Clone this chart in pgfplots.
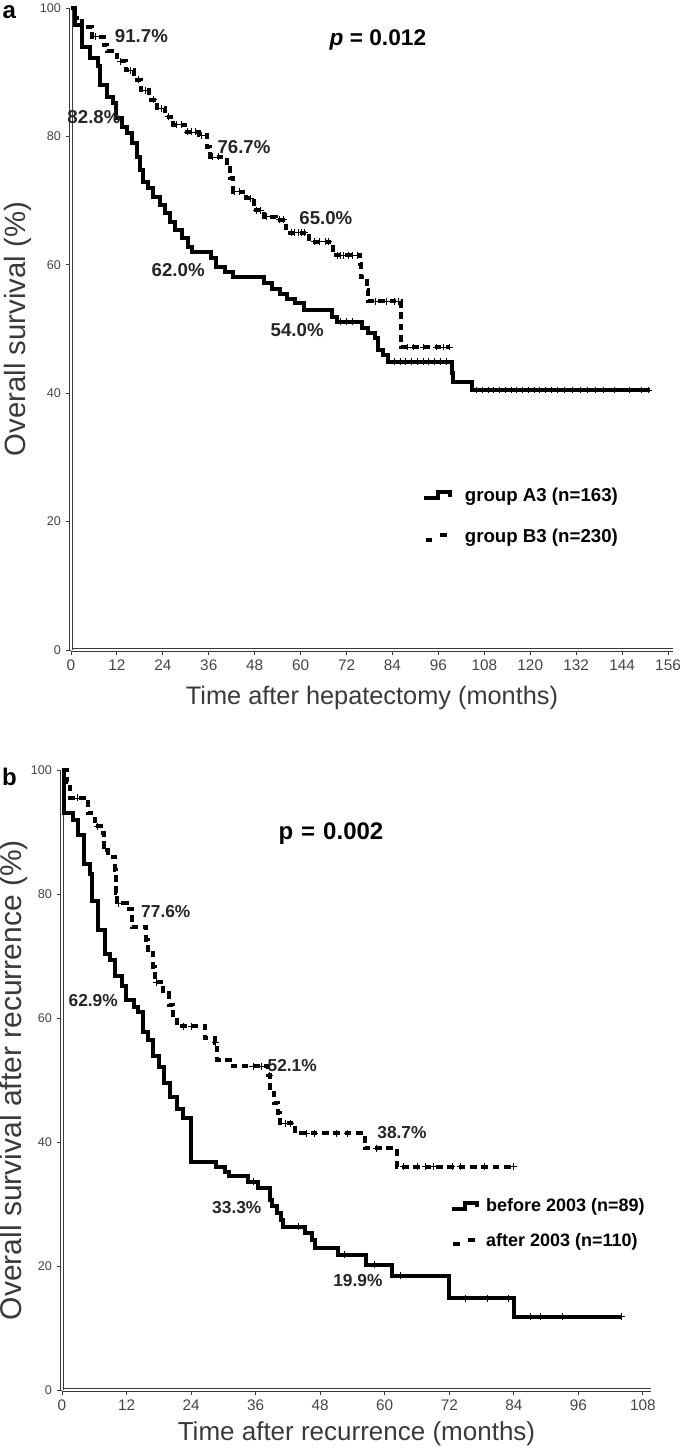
\documentclass[border=0pt]{standalone}
\usepackage{fontspec}
\setmainfont{Liberation Sans}
\usepackage{pgfplots}
\pgfplotsset{compat=1.18}

\definecolor{axgray}{HTML}{3A3A3A}
\definecolor{lblgray}{HTML}{454545}

\pgfplotsset{
  kmbase/.style={
    scale only axis,
    axis x line*=bottom, axis y line*=left,
    axis line style={draw=axgray, line width=0.6pt, double=white, double distance=1.1pt},
    tick style={draw=axgray, line width=0.7pt},
    tick align=outside, major tick length=4pt,
    ymin=0, ymax=100, ytick={0,20,...,100},
    /pgf/number format/assume math mode=true,
    yticklabel style={font=\fontsize{9.5}{10}\selectfont, text=lblgray},
    xticklabel style={font=\fontsize{11.5}{12}\selectfont, text=lblgray},
    clip=false,
    legend cell align=left,
  },
  solidkm/.style={const plot, black, line width=3pt, line join=miter, mark=none,
    legend image code/.code={\draw[black,line width=3pt,line join=miter] (0pt,-2pt) -- (10pt,-2pt) -- (10pt,2.5pt) -- (19pt,2.5pt) -- (19pt,-1pt);}},
  dashkm/.style={const plot, black, line width=3pt, dash pattern=on 5pt off 3.5pt, mark=none,
    legend image code/.code={\draw[black,line width=3pt] (1pt,-2.5pt) -- (8pt,-2.5pt); \draw[black,line width=3pt] (12pt,1pt) -- (19pt,1pt);}},
  cens/.style={only marks, mark=+, mark size=2.6pt, black, mark options={line width=0.6pt, solid}, forget plot},
}

\begin{document}
\begin{tikzpicture}
\path[use as bounding box] (0,0) rectangle (513.75pt,-1086.75pt);

% ---------------- panel a ----------------
\node[font=\bfseries\fontsize{18}{20}\selectfont, anchor=center] at (7pt,-9pt) {a};
\begin{axis}[kmbase,
  at={(53.25pt,-487.5pt)}, anchor=south west,
  width=451.5pt, height=481.5pt,
  xmin=0, xmax=157.3, xtick={0,12,...,156},
  xlabel={Time after hepatectomy (months)},
  ylabel={Overall survival (\%)},
  every axis x label/.style={at={(axis description cs:0.5,-0.075)}, anchor=center, font=\fontsize{19}{21}\selectfont, text=axgray},
  every axis y label/.style={at={(axis description cs:-0.088,0.5)}, rotate=90, anchor=center, font=\fontsize{22}{24}\selectfont, text=axgray},
  legend style={draw=none, fill=none, at={(axis cs:91.7,20.85)}, anchor=west, inner sep=0pt,
    font=\bfseries\fontsize{14}{16}\selectfont, row sep=15pt,
    /tikz/every odd column/.append style={column sep=8pt}},
]
\addplot[solidkm] coordinates {
(0,100) (1,97.4) (2.8,94.0) (5,92.2) (7.1,91.0) (7.5,88.0) (9.3,86.2) (11.1,85.2) (11.8,82.8)
(13.3,81.5) (14.6,80.5) (15.9,79.0) (17.2,76.8) (18.0,74.8) (18.9,72.9) (20.2,72.0) (21.5,70.6)
(23.2,69.3) (24.5,68.0) (25.9,66.7) (27.2,65.4) (28.9,64.1) (30.6,62.8) (31.5,62.0) (36.7,61.0)
(38.0,59.7) (40.2,58.9) (42.4,58.1) (50.3,57.1) (52.5,56.3) (54.6,55.5) (56.5,54.6) (58.5,54.0)
(61.0,53.0) (68.1,51.9) (69.4,51.1) (76.0,50.1) (77.7,49.4) (79.4,48.6) (80.3,46.7) (81.6,45.9)
(82.9,44.9) (99.5,43.1) (99.9,41.8) (104.7,40.5) (151.3,40.5)};
\addlegendentry{group A3 (n=163)}
\addplot[dashkm] coordinates {
(0,100) (1,98.5) (3,97.0) (5.5,95.5) (8.5,94.3) (9.5,93.3) (12,91.7) (14.3,90.3) (16.5,88.8)
(18.2,87.2) (20.4,85.7) (22.6,84.4) (24.6,83.1) (26.7,81.8) (29.8,80.7) (33.5,80.2) (35.5,78.4)
(36.3,76.8) (40.7,75.5) (41.6,73.5) (42.4,71.4) (45.8,70.4) (47.7,68.5) (50.3,67.5) (53.6,67.0)
(56.2,65.0) (62.3,63.6) (68.4,61.5) (75.5,60.2) (75.7,58.1) (77.3,56.1) (77.6,54.3) (86.3,47.2)
(99,47.2)};
\addlegendentry{group B3 (n=230)}
\addplot[cens] coordinates {
(70.5,51.1) (72,51.1) (73.5,51.1) (84.5,44.9) (86,44.9) (87.5,44.9) (89,44.9) (90.5,44.9)
(92,44.9) (93.5,44.9) (95,44.9) (96.5,44.9) (98,44.9) (106,40.5) (107.5,40.5) (109,40.5)
(110.5,40.5) (112,40.5) (113.5,40.5) (115,40.5) (116.5,40.5) (118,40.5) (119.5,40.5) (121,40.5)
(122.5,40.5) (124,40.5) (125.5,40.5) (127,40.5) (129,40.5) (131,40.5) (133,40.5) (135,40.5)
(137,40.5) (139,40.5) (142,40.5) (146,40.5) (149,40.5) (151,40.5)};
\addplot[cens] coordinates {
(6.5,95.5) (13,91.7) (15.5,90.3) (17.5,88.8) (19.5,87.2) (21.5,85.7) (23.5,84.4) (25.5,83.1)
(27.5,81.8) (28.8,81.8) (30.5,80.7) (31.5,80.7) (32.5,80.7) (34,80.2) (37,76.8) (38.5,76.8)
(42.8,71.4) (44,71.4) (46.8,70.4) (48.5,68.5) (49.5,68.5) (51,67.5) (54.5,67.0) (55.5,67.0)
(57.5,65.0) (58.5,65.0) (59.3,65.0) (60.2,65.0) (61,65.0) (63.5,63.6) (65,63.6) (66.5,63.6)
(67.2,63.6) (69.5,61.5) (70.5,61.5) (71.3,61.5) (72.5,61.5) (73.5,61.5) (74.8,61.5) (79.5,54.3)
(82.5,54.3) (84.5,54.3) (85.6,54.3) (88,47.2) (89.5,47.2) (92,47.2) (95.5,47.2) (97.3,47.2) (99,47.2)};
\begin{scope}[every node/.style={font=\bfseries\fontsize{14}{16}\selectfont, text=black!85}]
\node at (axis cs:18.4,95.6) {91.7\%};
\node at (axis cs:6.0,83.0) {82.8\%};
\node at (axis cs:45.2,78.3) {76.7\%};
\node at (axis cs:66.6,67.3) {65.0\%};
\node at (axis cs:28.0,59.2) {62.0\%};
\node at (axis cs:59.1,49.8) {54.0\%};
\end{scope}
\node[font=\bfseries\fontsize{17}{19}\selectfont] at (axis cs:80.2,95.0) {\textit{p} = 0.012};
\end{axis}

% ---------------- panel b ----------------
\node[font=\bfseries\fontsize{18}{20}\selectfont, anchor=center] at (7pt,-583pt) {b};
\begin{axis}[kmbase,
  at={(46.5pt,-1042.5pt)}, anchor=south west,
  width=441.75pt, height=465pt,
  xmin=0, xmax=109.5, xtick={0,12,...,108},
  xlabel={Time after recurrence (months)},
  ylabel={Overall survival after recurrence (\%)},
  every axis x label/.style={at={(axis description cs:0.5,-0.07)}, anchor=center, font=\fontsize{19.5}{21}\selectfont, text=axgray},
  every axis y label/.style={at={(axis description cs:-0.082,0.5)}, rotate=90, anchor=center, font=\fontsize{22.5}{24}\selectfont, text=axgray},
  legend style={draw=none, fill=none, at={(axis cs:72.1,26.85)}, anchor=west, inner sep=0pt,
    font=\bfseries\fontsize{13.5}{15}\selectfont, row sep=11pt,
    /tikz/every odd column/.append style={column sep=3pt}},
]
\addplot[solidkm] coordinates {
(0,100) (0.4,93.0) (2.0,92.0) (3.0,89.5) (4.0,84.9) (5.2,83.3) (5.5,78.8) (6.7,74.2) (8.0,70.4)
(8.9,69.4) (9.9,66.7) (11.1,65.1) (11.9,62.9) (13.3,61.8) (14.2,61.0) (15.1,57.8) (16.0,56.5)
(17.0,53.8) (18.0,52.1) (19.0,49.5) (20.0,47.3) (21.3,45.4) (22.5,43.8) (24.0,36.8) (28.6,36.0)
(30.3,35.2) (31.0,34.5) (34.6,33.6) (36.4,32.6) (38.7,30.6) (39.0,29.6) (39.9,28.5) (40.8,27.4)
(41.1,26.3) (45.2,25.3) (46.4,24.2) (47.0,22.9) (51.4,21.8) (56.6,20.2) (61.3,18.4) (72.0,14.8)
(84.0,11.8) (104,11.8)};
\addlegendentry{before 2003 (n=89)}
\addplot[dashkm] coordinates {
(0,100) (0.9,98.0) (1.5,95.5) (4.9,93.0) (6.1,90.9) (7.7,89.8) (7.8,87.4) (8.6,86.0) (9.9,83.9)
(10.0,80.2) (10.2,78.5) (12.0,77.6) (13.0,74.6) (15.7,72.6) (15.9,71.0) (17.0,68.3) (17.2,65.8)
(18.8,64.0) (19.8,62.1) (20.7,60.5) (21.3,58.7) (26.6,56.7) (28.4,56.0) (28.8,53.2) (31.8,52.2)
(38.3,50.8) (38.7,48.4) (39.4,46.3) (40.2,44.7) (40.6,43.0) (43.3,41.4) (56.3,39.0) (62.2,36.0)
(84,36.0)};
\addlegendentry{after 2003 (n=110)}
\addplot[cens] coordinates {
(35.5,33.6) (44,26.3) (52.5,21.8) (58,20.2) (63,18.4) (75,14.8) (79,14.8) (83,14.8)
(87,11.8) (89,11.8) (93,11.8) (104,11.8)};
\addplot[cens] coordinates {
(2.8,95.5) (6.6,90.9) (8.0,87.4) (10.5,78.5) (17.5,65.8) (22.5,58.7) (24,58.7) (28.5,56.0)
(35.5,52.2) (37,52.2) (38.5,50.8) (41.5,43.0) (42.5,43.0) (45.5,41.4) (47,41.4) (51,41.4)
(53,41.4) (58.5,39.0) (63.5,36.0) (66,36.0) (67.5,36.0) (69,36.0) (72.5,36.0) (74,36.0)
(78.5,36.0) (84,36.0)};
\begin{scope}[every node/.style={font=\bfseries\fontsize{13}{15}\selectfont, text=black!85}]
\node at (axis cs:19.3,77.1) {77.6\%};
\node at (axis cs:5.8,62.9) {62.9\%};
\node at (axis cs:42.8,52.4) {52.1\%};
\node at (axis cs:63.2,41.5) {38.7\%};
\node at (axis cs:32.5,29.4) {33.3\%};
\node at (axis cs:55.0,17.7) {19.9\%};
\end{scope}
\node[font=\bfseries\fontsize{18}{20}\selectfont] at (axis cs:50,89.8) {p\,\,=\,\,0.002};
\end{axis}
\end{tikzpicture}
\end{document}
